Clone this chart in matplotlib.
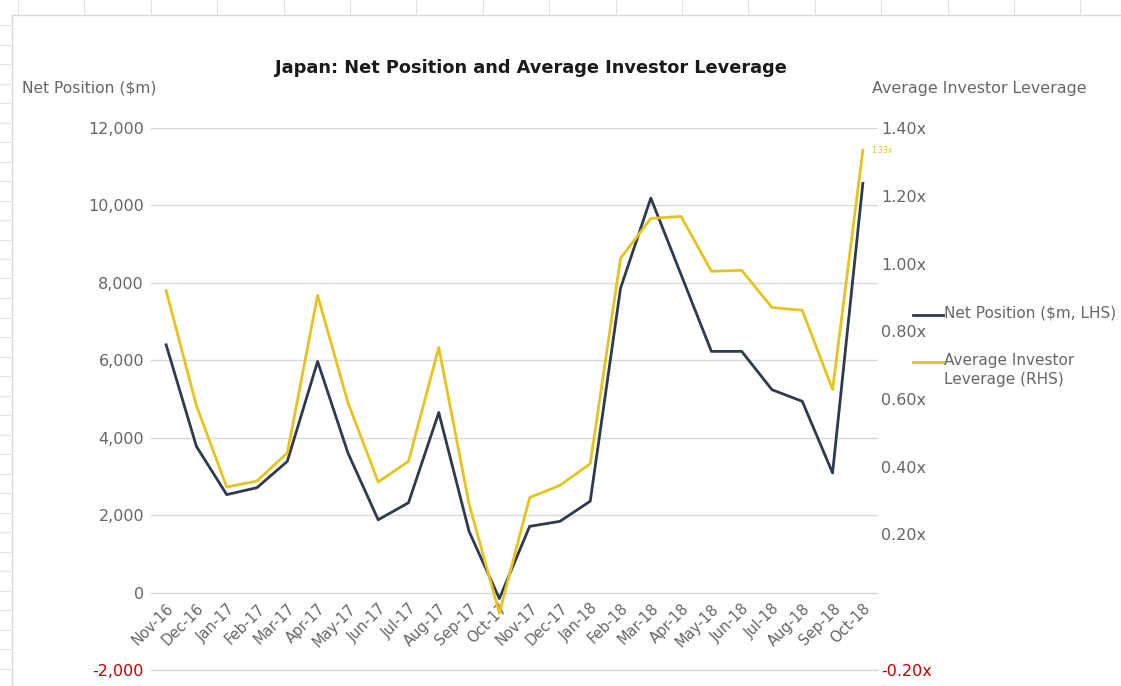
import matplotlib.pyplot as plt
from matplotlib.lines import Line2D
import numpy as np

months = ['Nov-16', 'Dec-16', 'Jan-17', 'Feb-17', 'Mar-17', 'Apr-17', 'May-17', 'Jun-17',
          'Jul-17', 'Aug-17', 'Sep-17', 'Oct-17', 'Nov-17', 'Dec-17', 'Jan-18', 'Feb-18',
          'Mar-18', 'Apr-18', 'May-18', 'Jun-18', 'Jul-18', 'Aug-18', 'Sep-18', 'Oct-18']
net_position = [6400, 3775, 2530, 2710, 3390, 5970, 3610, 1880, 2320, 4650, 1580, -155,
                1710, 1840, 2360, 7860, 10190, 8210, 6230, 6230, 5240, 4940, 3090, 10570]
leverage = [0.92, 0.58, 0.34, 0.358, 0.441, 0.906, 0.59, 0.355, 0.416, 0.752, 0.29, -0.032,
            0.309, 0.345, 0.409, 1.015, 1.133, 1.139, 0.977, 0.98, 0.87, 0.862, 0.628, 1.334]

left_ticks = [-2000, 0, 2000, 4000, 6000, 8000, 10000, 12000]
right_ticks = [-0.2, 0.2, 0.4, 0.6, 0.8, 1.0, 1.2, 1.4]
legend_labels = ['Net Position ($m, LHS)', 'Average Investor\nLeverage (RHS)']

navy = '#2F3A4E'
gold = '#E5C41E'
grey = '#666666'
red = '#C00000'

W, H = 1121, 686
fig = plt.figure(figsize=(W / 100, H / 100), dpi=100)
plt.rcParams['font.family'] = ['DejaVu Sans']

def fx(px):
    return px / W

def fy(py):
    return 1 - py / H

# faint spreadsheet cells behind the chart
for xc in np.arange(18, W, 66.4):
    fig.add_artist(Line2D([fx(xc), fx(xc)], [fy(0), fy(14)], color='#e3e3e3', lw=0.8))
for yc in np.arange(25, H, 19.5):
    fig.add_artist(Line2D([0, fx(10)], [fy(yc), fy(yc)], color='#e3e3e3', lw=0.8))
fig.add_artist(Line2D([fx(12), fx(12)], [0, fy(15)], color='#d9d9d9', lw=1))
fig.add_artist(Line2D([fx(12), 1], [fy(15), fy(15)], color='#d9d9d9', lw=1))

ax = fig.add_axes([fx(151), fy(670), fx(878 - 151), (670 - 128) / H])
x = np.arange(len(months))
ax.plot(x, net_position, color=navy, lw=2.0, zorder=3)
ax.set_xlim(-0.5, len(months) - 0.5)
ax.set_ylim(-2000, 12000)
ax.set_yticks(left_ticks)
ax.set_yticklabels([f'{v:,}' for v in left_ticks])
for lab, v in zip(ax.get_yticklabels(), left_ticks):
    lab.set_color(red if v < 0 else grey)
ax.grid(axis='y', color='#d9d9d9', lw=1)
ax.axhline(left_ticks[0], color='#d9d9d9', lw=1, clip_on=False, zorder=0)
ax.set_axisbelow(True)
for s in ['top', 'right', 'left']:
    ax.spines[s].set_visible(False)
ax.spines['bottom'].set_position(('data', 0))
ax.spines['bottom'].set_visible(False)
ax.set_xticks(x)
ax.set_xticklabels(months, rotation=45, ha='right', rotation_mode='anchor', color=grey, fontsize=10.5)
ax.tick_params(axis='x', length=0, pad=6)
ax.tick_params(axis='y', length=0, pad=5, labelsize=11.5)

ax2 = ax.twinx()
ax2.plot(x, leverage, color=gold, lw=2.0, zorder=3)
ax2.set_ylim(-0.2, 1.4)
ax2.set_yticks(right_ticks)
ax2.set_yticklabels([f'{v:.2f}x' for v in right_ticks])
for lab, v in zip(ax2.get_yticklabels(), right_ticks):
    lab.set_color(red if v < 0 else grey)
ax2.tick_params(axis='y', length=0, pad=2, labelsize=11.5)
for s in ax2.spines.values():
    s.set_visible(False)
ax2.annotate(f'{leverage[-1]:.2f}x', (x[-1], leverage[-1]), xytext=(6, 0), textcoords='offset points',
             color=gold, fontsize=5.5, va='center', ha='left')

fig.text(fx(531), fy(68), 'Japan: Net Position and Average Investor Leverage',
         ha='center', va='center', fontsize=12.8, fontweight='bold', color='#1a1a1a')
fig.text(fx(22), fy(88), 'Net Position ($m)', ha='left', va='center', fontsize=11.2, color=grey)
fig.text(fx(872), fy(88), 'Average Investor Leverage', ha='left', va='center', fontsize=11.4, color=grey)

# legend drawn by hand so the handles line up with the first text line
for (ly, col, lab) in [(315, navy, legend_labels[0]), (362, gold, legend_labels[1])]:
    fig.add_artist(Line2D([fx(913), fx(943)], [fy(ly), fy(ly)], color=col, lw=2.0))
    fig.text(fx(944), fy(ly - 9), lab, ha='left', va='top', fontsize=11, color=grey, linespacing=1.35)

fig.savefig('out.png', dpi=100)
